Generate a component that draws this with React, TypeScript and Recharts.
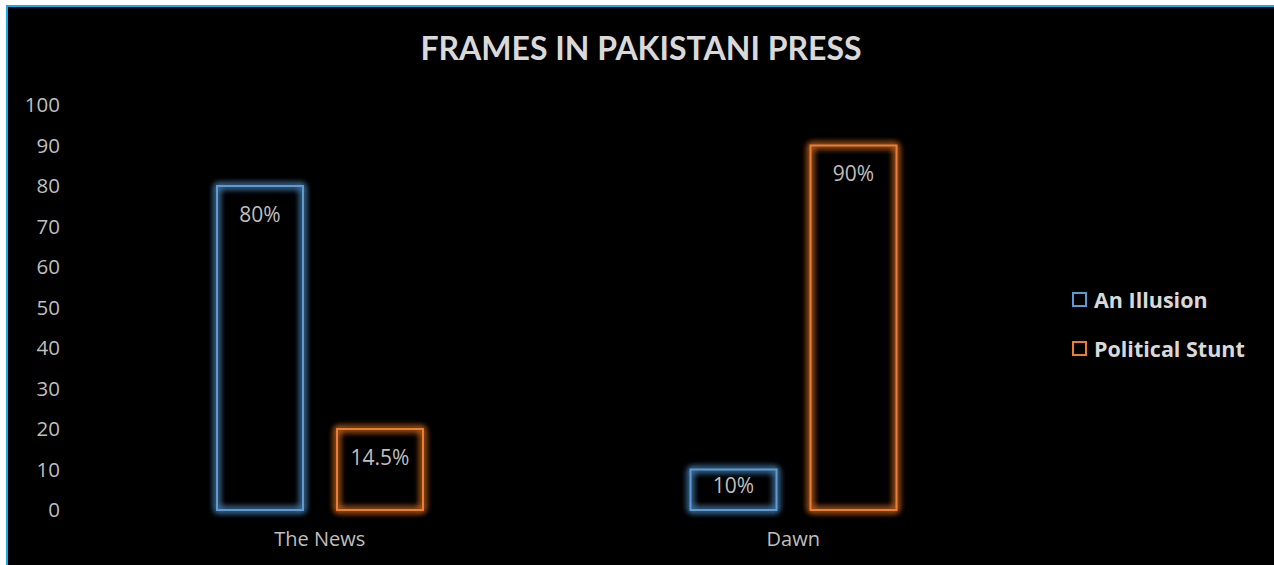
import React from "react";
import { BarChart, Bar, XAxis, YAxis, LabelList } from "recharts";

const categories = ["The News", "Dawn"];
const illusionValues = [80, 10];
const stuntValues = [20, 90];
const illusionLabels = ["80%", "10%"];
const stuntLabels = ["14.5%", "90%"];
const yTicks = [0, 10, 20, 30, 40, 50, 60, 70, 80, 90, 100];

const series = [
  { key: "illusion", label: "illusionLabel", name: "An Illusion", color: "#5b9bd5", glow: "glowBlue" },
  { key: "stunt", label: "stuntLabel", name: "Political Stunt", color: "#ed7d31", glow: "glowOrange" },
];

const data = categories.map((c, i) => ({
  name: c,
  illusion: illusionValues[i],
  stunt: stuntValues[i],
  illusionLabel: illusionLabels[i],
  stuntLabel: stuntLabels[i],
}));

const FONT = "'Open Sans', sans-serif";

function GlowBar(props: any) {
  const { x, y, width, height, stroke, glowId } = props;
  if (!height) return null;
  return (
    <g>
      <defs>
        <filter id={glowId} x="-50%" y="-50%" width="200%" height="200%">
          <feGaussianBlur in="SourceGraphic" stdDeviation="3.5" result="b" />
          <feMerge>
            <feMergeNode in="b" />
            <feMergeNode in="b" />
            <feMergeNode in="b" />
            <feMergeNode in="SourceGraphic" />
          </feMerge>
        </filter>
      </defs>
      <rect
        x={x}
        y={y}
        width={width}
        height={height}
        fill="none"
        stroke={stroke}
        strokeWidth={2}
        filter={`url(#${glowId})`}
      />
    </g>
  );
}

function BarLabel(props: any) {
  const { x, y, width, height, value } = props;
  const base = y + Math.min(35.5, height - 17.5);
  return (
    <text
      x={x + width / 2}
      y={base}
      textAnchor="middle"
      fill="#bfbfbf"
      fontSize={21}
      fontFamily={FONT}
    >
      {value}
    </text>
  );
}

function LegendBox() {
  return (
    <div
      style={{
        position: "absolute",
        left: 1064,
        top: 268,
        fontFamily: FONT,
        fontWeight: 700,
      }}
    >
      {series.map((s) => (
        <div key={s.key} style={{ height: 49, display: "flex", alignItems: "center" }}>
          <span
            style={{
              width: 15,
              height: 15,
              boxSizing: "border-box",
              border: `2px solid ${s.color}`,
              marginRight: 7,
            }}
          />
          <span style={{ color: "#d9d9d9", fontSize: 21.5, whiteSpace: "nowrap" }}>{s.name}</span>
        </div>
      ))}
    </div>
  );
}

export default function App() {
  return (
    <div
      style={{
        position: "absolute",
        left: 6,
        top: 5,
        width: 1268,
        height: 560,
        boxSizing: "border-box",
        borderTop: "2px solid #18a9ec",
        borderLeft: "2px solid #18a9ec",
        background: "#000",
      }}
    >
      <div style={{ position: "relative", width: 1266, height: 558 }}>
        <svg
          width={1266}
          height={80}
          style={{ position: "absolute", left: 0, top: 0, pointerEvents: "none" }}
        >
          <text
            x={633}
            y={53}
            textAnchor="middle"
            fill="#d9d9d9"
            fontSize={32}
            fontWeight={700}
            fontFamily="Lato, sans-serif"
          >
            FRAMES IN PAKISTANI PRESS
          </text>
        </svg>
        <BarChart
          width={1266}
          height={558}
          data={data}
          margin={{ top: 98, right: 244, bottom: 0, left: 0 }}
          barSize={86}
          barGap={34}
        >
          <XAxis
            dataKey="name"
            axisLine={false}
            tickLine={false}
            tickSize={0}
            tickMargin={22}
            height={55}
            tick={{ fill: "#bfbfbf", fontSize: 20, fontFamily: FONT }}
          />
          <YAxis
            domain={[0, 100]}
            ticks={yTicks}
            interval={0}
            axisLine={false}
            tickLine={false}
            tickSize={0}
            tickMargin={23}
            width={75}
            tick={{ fill: "#bfbfbf", fontSize: 20.5, fontFamily: FONT }}
          />
          {series.map((s) => (
            <Bar
              key={s.key}
              dataKey={s.key}
              name={s.name}
              stroke={s.color}
              fill="none"
              isAnimationActive={false}
              shape={(p: any) => <GlowBar {...p} stroke={s.color} glowId={s.glow} />}
            >
              <LabelList dataKey={s.label} content={BarLabel} />
            </Bar>
          ))}
        </BarChart>
        <LegendBox />
      </div>
    </div>
  );
}
